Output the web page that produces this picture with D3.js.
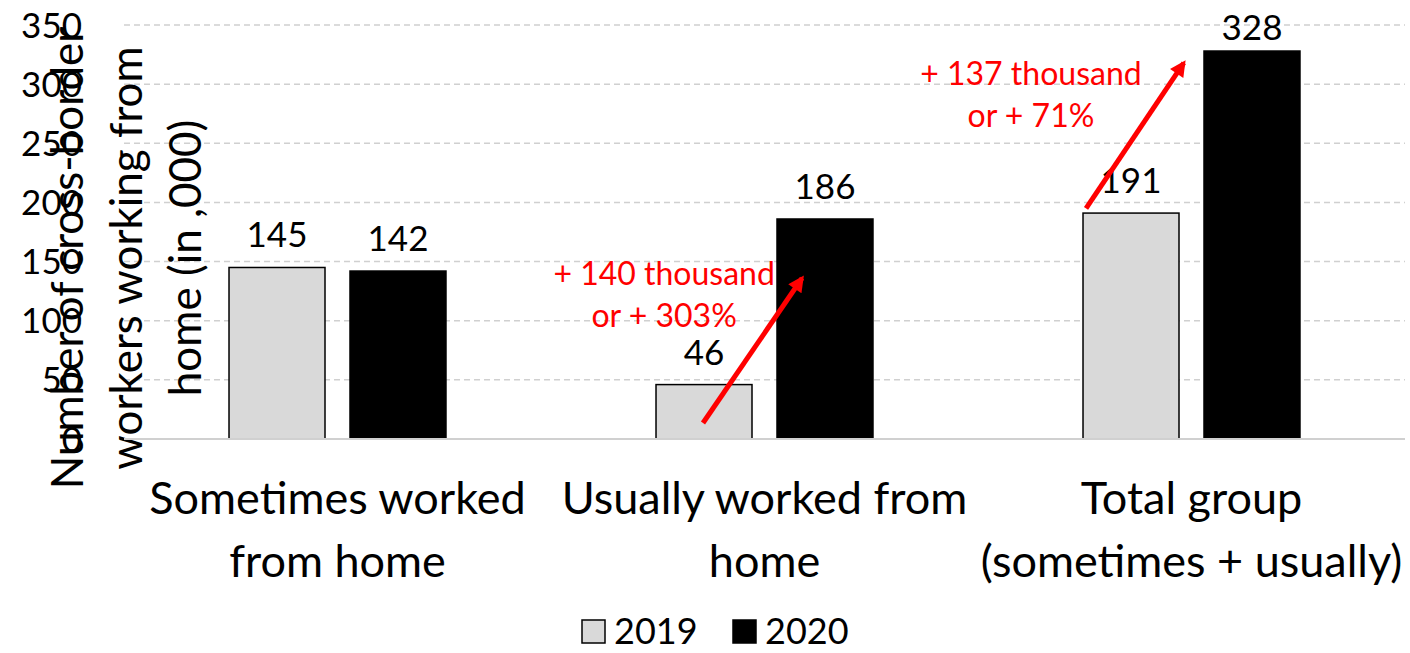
<!DOCTYPE html>
<html lang="en">
  <head>
    <meta charset="UTF-8" />
    <title>Cross-border workers working from home</title>
    <script src="https://d3js.org/d3.v7.min.js"></script>
    <style>
      body {
        margin: 0;
        background: #fff;
      }
      svg text {
        font-family: Lato, "Open Sans", sans-serif;
      }
    </style>
  </head>
  <body>
    <svg width="1410" height="653"></svg>

    <script>
      const categories = [
        ["Sometimes worked", "from home"],
        ["Usually worked from", "home"],
        ["Total group", "(sometimes + usually)"],
      ];
      const years = ["2019", "2020"];
      const values2019 = [145, 46, 191];
      const values2020 = [142, 186, 328];
      const yTicks = [0, 50, 100, 150, 200, 250, 300, 350];
      const yTitle = ["Number of cross-border", "workers working from", "home (in ,000)"];

      // arrows: category index, band fraction and value for tail / head
      const arrows = [
        {cat: 1, x0: 0.356, v0: 13.5, x1: 0.588, v1: 136},
        {cat: 2, x0: 0.253, v0: 195, x1: 0.482, v1: 318},
      ];
      const notes = [
        {cat: 1, x: 0.265, v: 130, lines: ["+ 140 thousand", "or + 303%"]},
        {cat: 2, x: 0.124, v: 299, lines: ["+ 137 thousand", "or + 71%"]},
      ];

      const colors = {"2019": "#d9d9d9", "2020": "#000000"};

      const data = categories.map((c, i) => ({
        key: i,
        label: c,
        values: [
          {year: "2019", value: values2019[i]},
          {year: "2020", value: values2020[i]},
        ],
      }));

      const svg = d3.select("svg");
      const plot = {left: 124, right: 1405, top: 25, bottom: 439};

      const x = d3.scaleBand().domain(d3.range(categories.length)).range([plot.left, plot.right]).padding(0);
      const xi = d3.scaleBand().domain(years).range([0, x.bandwidth()])
        .paddingInner(0.2066).paddingOuter(0.868);
      const y = d3.scaleLinear().domain([0, 350]).range([plot.bottom, plot.top]);

      // gridlines
      svg.append("g")
        .selectAll("line")
        .data(yTicks.filter((d) => d > 0))
        .join("line")
        .attr("x1", plot.left)
        .attr("x2", plot.right)
        .attr("y1", (d) => y(d))
        .attr("y2", (d) => y(d))
        .attr("stroke", "#d0d0d0")
        .attr("stroke-width", 1.5)
        .attr("stroke-dasharray", "6,4");

      // y tick labels
      svg.append("g")
        .selectAll("text")
        .data(yTicks)
        .join("text")
        .attr("x", 82)
        .attr("y", (d) => y(d))
        .attr("dy", "0.36em")
        .attr("text-anchor", "end")
        .attr("font-size", 35)
        .attr("fill", "#000")
        .text((d) => d);

      // y title
      const yt = svg.append("g").attr("transform", "translate(0,258) rotate(-90)");
      yt.selectAll("text")
        .data(yTitle)
        .join("text")
        .attr("x", 0)
        .attr("y", (d, i) => 83 + i * 59)
        .attr("text-anchor", "middle")
        .attr("font-size", 44)
        .attr("fill", "#000")
        .text((d) => d);

      // bars
      const groups = svg.append("g")
        .selectAll("g")
        .data(data)
        .join("g")
        .attr("transform", (d) => `translate(${x(d.key)},0)`);

      groups.selectAll("rect")
        .data((d) => d.values)
        .join("rect")
        .attr("x", (d) => xi(d.year))
        .attr("y", (d) => y(d.value))
        .attr("width", xi.bandwidth())
        .attr("height", (d) => y(0) - y(d.value))
        .attr("fill", (d) => colors[d.year])
        .attr("stroke", "#000")
        .attr("stroke-width", 1.5);

      groups.selectAll("text.val")
        .data((d) => d.values)
        .join("text")
        .attr("class", "val")
        .attr("x", (d) => xi(d.year) + xi.bandwidth() / 2)
        .attr("y", (d) => Math.max(y(d.value) - 20, 40))
        .attr("text-anchor", "middle")
        .attr("font-size", 35)
        .attr("fill", "#000")
        .text((d) => d.value);

      // baseline
      svg.append("line")
        .attr("x1", plot.left)
        .attr("x2", plot.right)
        .attr("y1", y(0))
        .attr("y2", y(0))
        .attr("stroke", "#d0d0d0")
        .attr("stroke-width", 2);

      // category labels
      groups.selectAll("text.cat")
        .data((d) => d.label)
        .join("text")
        .attr("class", "cat")
        .attr("x", x.bandwidth() / 2)
        .attr("y", (d, i) => 514 + i * 63)
        .attr("text-anchor", "middle")
        .attr("font-size", 45)
        .attr("fill", "#000")
        .text((d) => d);

      // arrows
      svg.append("defs")
        .append("marker")
        .attr("id", "head")
        .attr("viewBox", "0 0 10 10")
        .attr("refX", 8)
        .attr("refY", 5)
        .attr("markerWidth", 18)
        .attr("markerHeight", 16)
        .attr("markerUnits", "userSpaceOnUse")
        .attr("orient", "auto")
        .append("path")
        .attr("d", "M0,0 L10,5 L0,10 Z")
        .attr("fill", "#ff0000");

      svg.append("g")
        .selectAll("line")
        .data(arrows)
        .join("line")
        .attr("x1", (d) => x(d.cat) + d.x0 * x.bandwidth())
        .attr("y1", (d) => y(d.v0))
        .attr("x2", (d) => x(d.cat) + d.x1 * x.bandwidth())
        .attr("y2", (d) => y(d.v1))
        .attr("stroke", "#ff0000")
        .attr("stroke-width", 5)
        .attr("marker-end", "url(#head)");

      // annotation text
      const nt = svg.append("g")
        .selectAll("text")
        .data(notes)
        .join("text")
        .attr("x", (d) => x(d.cat) + d.x * x.bandwidth())
        .attr("y", (d) => y(d.v))
        .attr("text-anchor", "middle")
        .attr("font-size", 32)
        .attr("fill", "#ff0000");
      nt.selectAll("tspan")
        .data((d) => d.lines.map((l) => ({l, cx: x(d.cat) + d.x * x.bandwidth()})))
        .join("tspan")
        .attr("x", (d) => d.cx)
        .attr("dy", (d, i) => (i === 0 ? 0 : 42))
        .text((d) => d.l);

      // legend
      const legend = svg.append("g").attr("transform", "translate(582,620)");
      const li = legend.selectAll("g")
        .data(years)
        .join("g")
        .attr("transform", (d, i) => `translate(${i * 151},0)`);
      li.append("rect")
        .attr("width", 23)
        .attr("height", 23)
        .attr("fill", (d) => colors[d])
        .attr("stroke", "#000")
        .attr("stroke-width", 1.5);
      li.append("text")
        .attr("x", 32)
        .attr("y", 24)
        .attr("font-size", 36)
        .attr("fill", "#000")
        .text((d) => d);
    </script>
  </body>
</html>
